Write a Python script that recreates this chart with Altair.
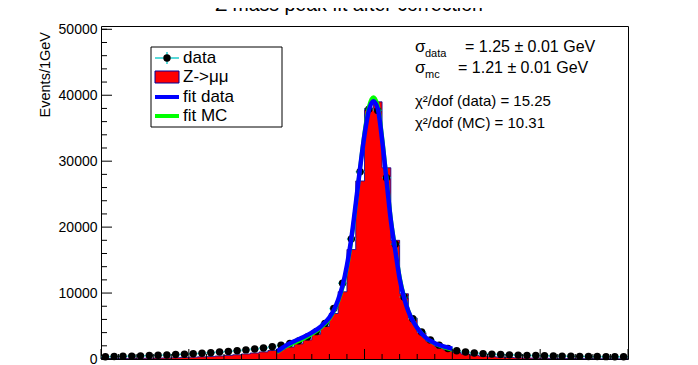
import altair as alt
import pandas as pd

# ---------------- data ----------------
bin_lo = list(range(60, 120))
data_counts = [350, 380, 410, 440, 480, 520, 560, 610, 670, 730,
               800, 880, 960, 1050, 1150, 1260, 1380, 1520, 1680, 1850,
               2080, 2350, 2750, 3350, 4150, 5400, 7650, 11500, 18200, 28400,
               37900, 37700, 27500, 17400, 9400, 6100, 4100, 2900, 2100, 1600,
               1250, 1050, 920, 820, 740, 680, 630, 590, 550, 520,
               490, 460, 440, 420, 400, 385, 370, 355, 340, 330]
mc_counts = [60, 70, 80, 95, 110, 125, 145, 170, 200, 235,
             280, 330, 390, 460, 550, 650, 770, 910, 1080, 1290,
             1500, 1820, 2300, 2900, 3750, 4950, 6900, 10200, 16600, 27000,
             38000, 39000, 29000, 18000, 9900, 6200, 4000, 2700, 1900, 1380,
             1000, 760, 580, 450, 350, 280, 225, 180, 150, 125,
             105, 90, 80, 70, 60, 55, 50, 45, 40, 35]

fit_x = [80, 80.5, 81, 82, 83, 84, 85, 86, 86.5, 87, 87.5, 88, 88.5, 89, 89.5,
         90, 90.5, 91, 91.5, 92, 92.5, 93, 93.5, 94, 94.5, 95, 95.5, 96, 97,
         98, 99, 100]
fit_data = [1150, 1550, 2000, 2700, 3300, 4000, 4900, 6300, 7400, 9000, 11100,
            14200, 18300, 23500, 29000, 34000, 37700, 39100, 38000, 33300,
            27200, 21000, 16500, 12200, 9300, 7200, 5800, 4700, 3200, 2400,
            1900, 1550]
fit_mc = [1000, 1450, 1850, 2450, 3050, 3800, 4700, 6100, 7200, 8700, 10800,
          13800, 17900, 23200, 29000, 34400, 38300, 39700, 38500, 33800,
          27600, 21300, 16800, 12500, 9500, 7300, 5850, 4750, 3200, 2350,
          1800, 1400]

y_major = [0, 10000, 20000, 30000, 40000, 50000]
y_minor = [2000, 4000, 6000, 8000, 12000, 14000, 16000, 18000, 22000, 24000,
           26000, 28000, 32000, 34000, 36000, 38000, 42000, 44000, 46000,
           48000, 50000]
x_major = [60, 70, 80, 90, 100, 110, 120]
x_minor = [62, 64, 66, 68, 72, 74, 76, 78, 82, 84, 86, 88, 92, 94, 96, 98,
           102, 104, 106, 108, 112, 114, 116, 118]

title_text = "Z mass peak fit after correction"
y_title = "Events/1GeV"
legend_labels = ["data", "Z->μμ", "fit data", "fit MC"]
stat_sigma_subs = ["data", "mc"]
stat_sigma_vals = ["= 1.25  ± 0.01 GeV", "= 1.21 ± 0.01 GeV"]
stat_chi = ["χ²/dof (data) = 15.25", "χ²/dof (MC) = 10.31"]

# ---------------- layout ----------------
W, H = 527, 333
FONT = "Liberation Sans"
RED = "#ff0000"
BLUE = "#0000ff"
GREEN = "#00ff00"
CYAN = "#22cccc"
HISTLINE = "#000099"

xscale = alt.Scale(domain=[60, 120], nice=False, zero=False)
yscale = alt.Scale(domain=[0, 50500], nice=False)

xax = alt.Axis(values=x_major, ticks=False, domain=False, grid=False,
               labelFontSize=14, labelFont=FONT, labelColor="black",
               labelPadding=4, labelFlush=False, title=None, format="d")
yax = alt.Axis(values=y_major, ticks=False, domain=False, grid=False,
               labelFontSize=14, labelFont=FONT, labelColor="black",
               labelPadding=4, title=None, format="d")

X = lambda f: alt.X(f, type="quantitative", scale=xscale, axis=xax)
Y = lambda f: alt.Y(f, type="quantitative", scale=yscale, axis=yax)

hist_df = pd.DataFrame({"x": bin_lo + [120], "y": mc_counts + [mc_counts[-1]]})
data_df = pd.DataFrame({
    "x": [b + 0.5 for b in bin_lo],
    "lo": bin_lo,
    "hi": [b + 1 for b in bin_lo],
    "y": data_counts,
})
fitd_df = pd.DataFrame({"x": fit_x, "y": fit_data})
fitm_df = pd.DataFrame({"x": fit_x, "y": fit_mc})

hist = alt.Chart(hist_df).mark_area(interpolate="step-after", color=RED,
                                    opacity=1).encode(x=X("x"), y=Y("y"))
hist_line = alt.Chart(hist_df).mark_line(interpolate="step-after",
                                         color=HISTLINE, strokeWidth=0.8).encode(
    x=X("x"), y=Y("y"))

err = alt.Chart(data_df).mark_rule(color=CYAN, strokeWidth=1.5).encode(
    x=X("lo"), x2="hi", y=Y("y"))
pts = alt.Chart(data_df).mark_circle(color="black", size=55, opacity=1).encode(
    x=X("x"), y=Y("y"))

fit_mc_line = alt.Chart(fitm_df).mark_line(color=GREEN, strokeWidth=4,
                                           interpolate="monotone").encode(
    x=X("x"), y=Y("y"))
fit_d_line = alt.Chart(fitd_df).mark_line(color=BLUE, strokeWidth=4.5,
                                          interpolate="monotone").encode(
    x=X("x"), y=Y("y"))

# inward ticks
ymaj_df = pd.DataFrame({"v": y_major})
ymin_df = pd.DataFrame({"v": y_minor})
xmaj_df = pd.DataFrame({"v": x_major})
xmin_df = pd.DataFrame({"v": x_minor})
ytick_major = alt.Chart(ymaj_df).mark_rule(color="black", strokeWidth=1).encode(
    y=Y("v"), x=alt.value(0), x2=alt.value(11))
ytick_minor = alt.Chart(ymin_df).mark_rule(color="black", strokeWidth=1).encode(
    y=Y("v"), x=alt.value(0), x2=alt.value(6))
xtick_major = alt.Chart(xmaj_df).mark_rule(color="black", strokeWidth=1).encode(
    x=X("v"), y=alt.value(H), y2=alt.value(H - 10))
xtick_minor = alt.Chart(xmin_df).mark_rule(color="black", strokeWidth=1).encode(
    x=X("v"), y=alt.value(H), y2=alt.value(H - 5))

one = pd.DataFrame({"a": [0]})

def txt(s, x, y, size, align="left", baseline="middle", angle=0, color="black"):
    kw = dict(align=align, baseline=baseline, fontSize=size, font=FONT,
              color=color, text=s)
    if angle:
        kw["angle"] = angle
    return alt.Chart(one).mark_text(**kw).encode(x=alt.value(x), y=alt.value(y))

# title (mostly cut off at the top, as in the reference)
title = txt(title_text, 248, -11, 19.5, align="center", baseline="bottom")
ytitle = txt(y_title, -55, 6, 14.5, align="right", baseline="middle", angle=270)

# legend box
lx0, lx1, ly0, ly1 = 50, 181, 21, 101
leg_box = alt.Chart(one).mark_rect(fill="white", stroke="black",
                                   strokeWidth=1).encode(
    x=alt.value(lx0), x2=alt.value(lx1), y=alt.value(ly0), y2=alt.value(ly1))
rows = [32, 51, 71, 90]
sx0, sx1 = 54, 78
leg_err_h = alt.Chart(one).mark_rule(color=CYAN, strokeWidth=1.5).encode(
    x=alt.value(sx0), x2=alt.value(sx1), y=alt.value(rows[0]))
leg_err_v = alt.Chart(one).mark_rule(color=CYAN, strokeWidth=1.5).encode(
    x=alt.value(66), y=alt.value(rows[0] - 6), y2=alt.value(rows[0] + 6))
leg_pt = alt.Chart(one).mark_circle(color="black", size=55, opacity=1).encode(
    x=alt.value(66), y=alt.value(rows[0]))
leg_red = alt.Chart(one).mark_rect(fill=RED, stroke=HISTLINE,
                                   strokeWidth=1).encode(
    x=alt.value(sx0), x2=alt.value(sx1), y=alt.value(rows[1] - 6),
    y2=alt.value(rows[1] + 6))
leg_blue = alt.Chart(one).mark_rule(color=BLUE, strokeWidth=4).encode(
    x=alt.value(sx0), x2=alt.value(sx1), y=alt.value(rows[2]))
leg_green = alt.Chart(one).mark_rule(color=GREEN, strokeWidth=4).encode(
    x=alt.value(sx0), x2=alt.value(sx1), y=alt.value(rows[3]))
leg_texts = [txt(legend_labels[i], 82, rows[i], 17) for i in range(4)]

# stats text
srows = [21, 42]
stats = []
for i in range(2):
    stats.append(txt("σ", 314, srows[i], 17))
    stats.append(txt(stat_sigma_subs[i], 324, srows[i] + 7, 11))
stats.append(txt(stat_sigma_vals[0], 364, srows[0], 16))
stats.append(txt(stat_sigma_vals[1], 357, srows[1], 16))
stats.append(txt(stat_chi[0], 314, 75, 15))
stats.append(txt(stat_chi[1], 314, 97, 15))

chart = alt.layer(
    hist, hist_line, err, pts, fit_mc_line, fit_d_line,
    ytick_major, ytick_minor, xtick_major, xtick_minor,
    title, ytitle,
    leg_box, leg_err_h, leg_err_v, leg_pt, leg_red, leg_blue, leg_green,
    *leg_texts, *stats,
).properties(
    width=W, height=H,
    autosize=alt.AutoSizeParams(type="none"),
    padding={"left": 93, "top": 18, "right": 62, "bottom": 40},
    background="white",
).configure_view(stroke="black", strokeWidth=1)

chart.save("out.html", embed_options={"renderer": "svg", "actions": False})
